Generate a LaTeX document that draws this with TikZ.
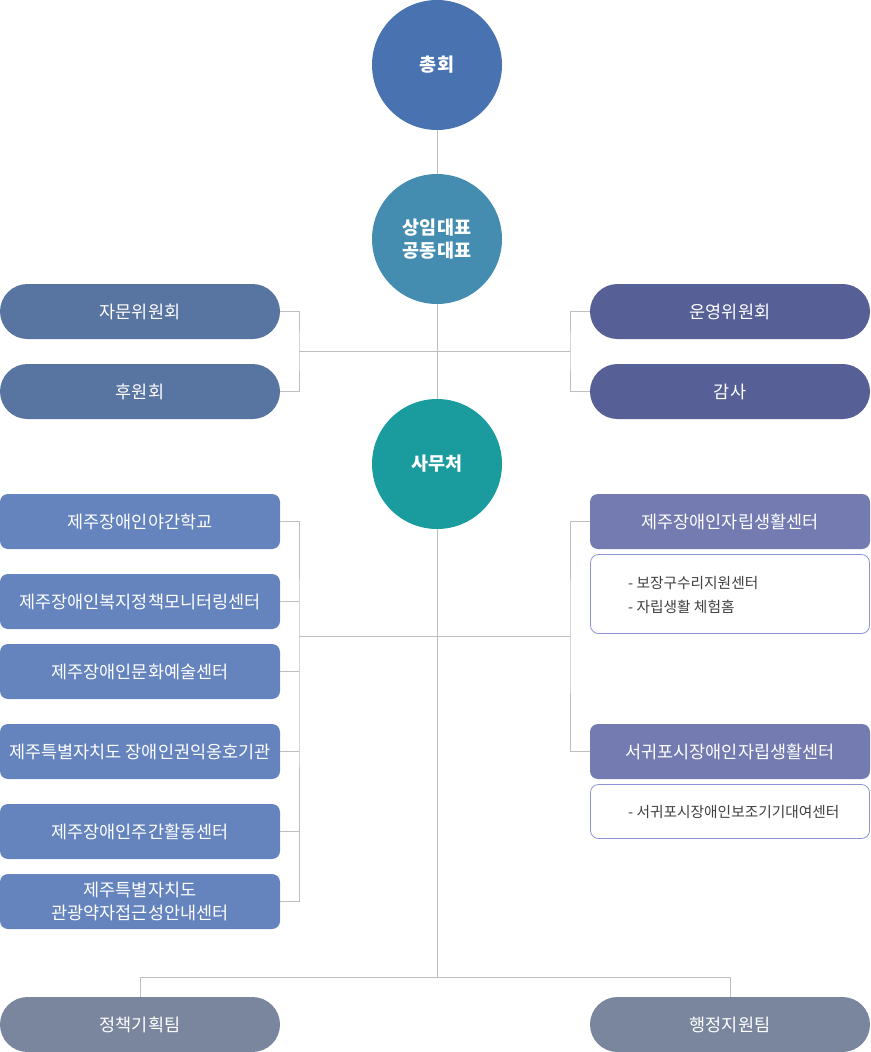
\documentclass[tikz,border=0pt]{standalone}
\usepackage{fontspec}
\setmainfont{Noto Sans CJK KR}
\usetikzlibrary{positioning}

\definecolor{cirtop}{RGB}{72,114,176}
\definecolor{cirmid}{RGB}{69,141,176}
\definecolor{cirsec}{RGB}{26,156,158}
\definecolor{pillleft}{RGB}{88,116,160}
\definecolor{pillright}{RGB}{86,96,150}
\definecolor{boxleft}{RGB}{101,132,190}
\definecolor{boxright}{RGB}{115,123,176}
\definecolor{subline}{RGB}{140,148,212}
\definecolor{pillteam}{RGB}{122,134,158}
\definecolor{linkgray}{RGB}{190,190,190}

\begin{document}
\begin{tikzpicture}[x=1pt,y=-1pt,
  circ/.style={circle,fill=#1,minimum size=130pt,inner sep=0pt,text=white,
    align=center,font=\fontsize{18.5}{23}\selectfont\bfseries},
  pill/.style={rectangle,rounded corners=27.5pt,fill=#1,minimum width=280pt,
    minimum height=55pt,inner sep=0pt,text=white,font=\fontsize{17.5}{22}\selectfont},
  orgbox/.style={rectangle,rounded corners=8pt,fill=#1,minimum width=280pt,
    minimum height=55pt,inner sep=0pt,text=white,align=center,
    font=\fontsize{17.5}{23}\selectfont},
  subbox/.style={rectangle,rounded corners=8pt,draw=subline,fill=white,line width=0.8pt,
    minimum width=279pt,inner sep=0pt},
  subtext/.style={anchor=west,align=left,text=black!75,inner sep=0pt,
    font=\fontsize{14.7}{24}\selectfont},
  link/.style={draw=linkgray,line width=1pt}]

  \useasboundingbox (0,0) rectangle (870,1052);

  \pgfmathsetmacro{\xmid}{437}
  \pgfmathsetmacro{\xlbar}{299}
  \pgfmathsetmacro{\xrbar}{570}

  % Circles on the main axis
  \node[circ=cirtop] (chonghoe) at (\xmid,65) {총회};
  \node[circ=cirmid] (daepyo) at (\xmid,239) {상임대표\\공동대표};
  \node[circ=cirsec] (samucheo) at (\xmid,464) {사무처};

  % Committees
  \node[pill=pillleft] (jamun) at (140,311.5) {자문위원회};
  \node[pill=pillleft] (huwon) at (140,391.5) {후원회};
  \node[pill=pillright] (unyeong) at (730,311.5) {운영위원회};
  \node[pill=pillright] (gamsa) at (730,391.5) {감사};

  % Affiliated organisations, left column
  \foreach \name/\y/\label in {
      yagan/521.5/제주장애인야간학교,
      monitor/601.5/제주장애인복지정책모니터링센터,
      munhwa/671.5/제주장애인문화예술센터,
      gwonik/751.5/제주특별자치도 장애인권익옹호기관,
      jugan/831.5/제주장애인주간활동센터}
  {
    \node[orgbox=boxleft] (\name) at (140,\y) {\label};
  }
  \node[orgbox=boxleft] (gwangwang) at (140,901.5) {제주특별자치도\\관광약자접근성안내센터};

  % Affiliated organisations, right column
  \node[orgbox=boxright] (jarip) at (730,521.5) {제주장애인자립생활센터};
  \node[subbox,minimum height=79pt] (jaripsub) at (730,594) {};
  \node[subtext] (jariptxt) at (628,595) {- 보장구수리지원센터\\- 자립생활 체험홈};
  \node[orgbox=boxright] (seogwipo) at (730,751.5) {서귀포시장애인자립생활센터};
  \node[subbox,minimum height=54pt] (seogwiposub) at (730,811.5) {};
  \node[subtext] (seogwipotxt) at (628,812) {- 서귀포시장애인보조기기대여센터};

  % Teams
  \node[pill=pillteam] (jeongchaek) at (140,1024.5) {정책기획팀};
  \node[pill=pillteam] (haengjeong) at (730,1024.5) {행정지원팀};

  % Connectors
  \coordinate (upbarl) at (\xlbar,351);
  \coordinate (upbarr) at (\xrbar,351);
  \coordinate (lowbarl) at (\xlbar,636);
  \coordinate (lowbarr) at (\xrbar,636);
  \coordinate (teamjoin) at (\xmid,977);

  \draw[link] (chonghoe.south) -- (daepyo.north);
  \draw[link] (daepyo.south) -- (samucheo.north);
  \draw[link] (samucheo.south) -- (teamjoin);

  \draw[link] (jamun.east) -| (upbarl) |- (huwon.east);
  \draw[link] (unyeong.west) -| (upbarr) |- (gamsa.west);
  \draw[link] (upbarl) -- (upbarr);

  \draw[link] (yagan.east) -| (lowbarl) |- (gwangwang.east);
  \foreach \name in {monitor,munhwa,gwonik,jugan}
  {
    \draw[link] (\name.east) -- (\name.east -| lowbarl); % Branch
  }
  \draw[link] (jarip.west) -| (lowbarr) |- (seogwipo.west);
  \draw[link] (lowbarl) -- (lowbarr);

  \draw[link] (jeongchaek.north) |- (teamjoin) -| (haengjeong.north);

\end{tikzpicture}
\end{document}
